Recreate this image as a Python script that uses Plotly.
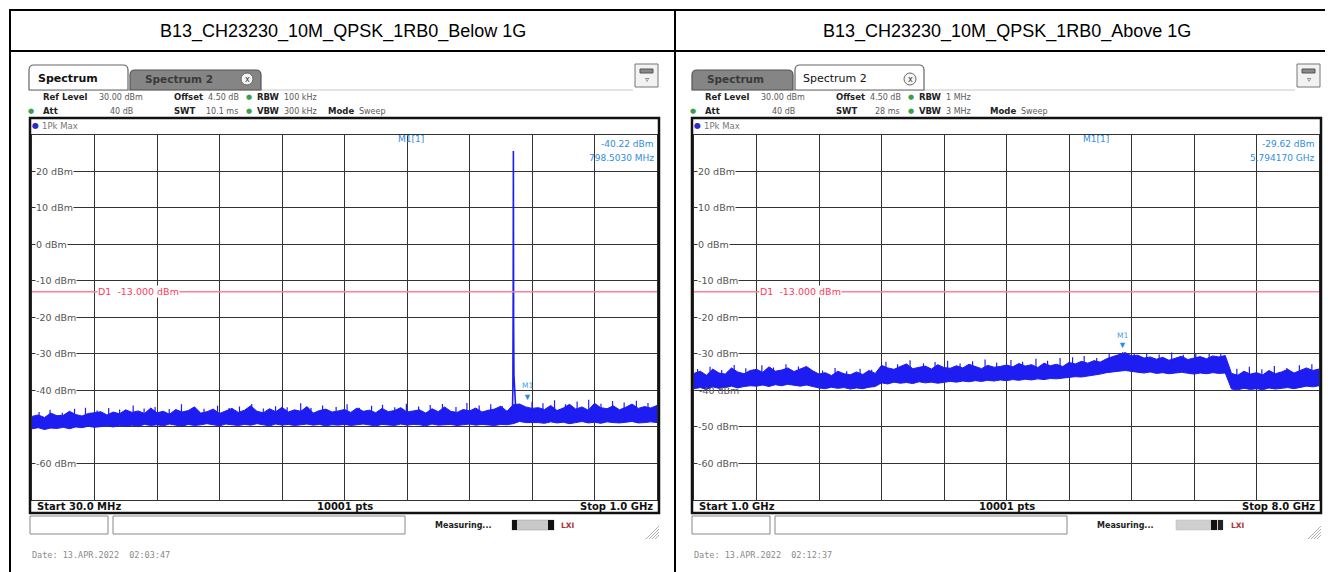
import numpy as np
import plotly.graph_objects as go

W, H = 1333, 572

# ---------------- data ----------------
titles = ["B13_CH23230_10M_QPSK_1RB0_Below 1G", "B13_CH23230_10M_QPSK_1RB0_Above 1G"]
y_range_dbm = [-70, 30]
y_tick_dbm = [20, 10, 0, -10, -20, -30, -40, -50, -60]
display_line_dbm = -13.0

below_start_mhz, below_stop_mhz = 30.0, 1000.0
below_upper_dbm = [
    -47.2, -46.8, -47.5, -46.3, -47.0, -46.9, -45.8, -46.7, -47.1, -46.4, -46.2, -45.9, -46.8, -46.0, -46.5, -45.4,
    -46.1, -45.7, -46.4, -44.9, -46.2, -45.8, -46.6, -45.3, -46.0, -45.6, -44.6, -46.3, -45.9, -45.2, -46.4, -45.7,
    -45.0, -46.1, -45.5, -44.3, -45.8, -46.2, -45.1, -45.9, -44.7, -46.0, -45.4, -45.8, -44.5, -46.3, -45.6, -45.2,
    -46.0, -45.7,
    -45.3, -46.1, -44.9, -45.8, -45.5, -46.2, -45.0, -45.9, -45.6, -44.8, -46.0, -45.7, -45.4, -46.3, -45.1, -45.9,
    -44.6, -45.8, -46.1, -45.3, -45.7, -44.9, -46.0, -45.5, -45.2, -44.4, -45.8,
    -44.0, -43.8, -44.6, -45.0,
    -44.8, -45.3, -44.2, -45.6, -44.9, -43.9, -45.2, -44.6, -45.5, -43.6, -44.8, -45.1, -44.3, -45.4, -44.7, -43.8,
    -45.0, -44.5, -44.9, -44.2]
below_lower_dbm = [
    -50.6, -50.3, -50.8, -50.4, -50.5, -50.2, -50.6, -50.1, -50.3, -49.9, -50.2, -50.0, -49.8, -50.1, -49.7, -49.9,
    -49.6, -49.9, -49.4, -49.7, -49.5, -49.8, -49.3, -49.6, -49.9, -49.4, -49.7, -49.5, -49.2, -49.6, -49.8, -49.3,
    -49.5, -49.7, -49.4, -49.6, -49.2, -49.5, -49.8, -49.3, -49.6, -49.4, -49.7, -49.5, -49.3, -49.6, -49.4, -49.8,
    -49.5, -49.6,
    -49.4, -49.7, -49.5, -49.3, -49.6, -49.8, -49.4, -49.5, -49.7, -49.3, -49.6, -49.4, -49.5, -49.8, -49.3, -49.6,
    -49.5, -49.4, -49.7, -49.5, -49.3, -49.6, -49.4, -49.5, -49.7, -49.4, -49.5,
    -49.2, -48.6, -48.9, -49.0,
    -48.9, -49.1, -48.7, -49.0, -48.8, -49.2, -48.9, -48.6, -49.0, -48.8, -49.1, -48.7, -48.9, -49.0, -48.8, -48.6,
    -49.0, -48.9, -48.7, -48.9]
below_spur_freq_mhz = [41, 58, 77, 96, 113, 131, 149, 166, 187, 204, 221, 243, 262, 279, 297, 318, 336, 352, 371,
                       389, 408, 426, 447, 463, 481, 502, 519, 538, 557, 574, 593, 611, 630, 648, 667, 688, 705,
                       724, 742, 760, 806, 823, 841, 858, 876, 894, 913, 931, 949, 968, 986]
below_spur_dbm = [-46.0, -45.4, -46.2, -45.1, -44.8, -45.6, -44.9, -45.3, -44.2, -45.0, -44.6, -45.2, -43.9, -44.8,
                  -45.1, -44.3, -44.9, -44.5, -43.8, -45.0, -44.4, -44.7, -43.6, -44.9, -44.2, -44.6, -43.9, -44.8,
                  -44.3, -44.0, -44.7, -43.7, -44.5, -44.1, -43.8, -44.6, -43.5, -44.2, -43.9, -44.4, -43.2, -43.6,
                  -42.8, -43.9, -43.1, -42.6, -43.7, -43.0, -43.4, -42.9, -43.5]
carrier_freq_mhz = [775.5, 776.3, 776.8, 777.0, 777.1, 777.2, 777.5, 778.0, 779.0, 780.5, 782.5]
carrier_dbm = [-46.5, -40.0, -12.0, 10.0, 25.6, 8.0, -22.0, -36.0, -42.0, -44.5, -45.5]
below_m1_freq_mhz, below_m1_dbm = 798.503, -40.22

above_start_ghz, above_stop_ghz = 1.0, 8.0
above_upper_dbm = [
    -35.4, -34.8, -35.9, -34.2, -35.3, -35.6, -33.9, -35.0, -35.5, -34.6,
    -34.3, -35.1, -33.6, -34.8, -34.5, -33.9, -34.9, -34.2, -33.5, -34.7,
    -35.6, -35.2, -36.0, -34.8, -35.5, -35.8, -35.0, -35.7, -34.6, -35.4,
    -33.2, -33.9, -34.3, -33.5, -32.8, -34.1, -33.7, -33.4, -34.2, -33.0,
    -33.8, -34.0, -33.3, -33.9, -32.9, -33.6, -34.1, -33.2, -33.7, -33.5,
    -33.1, -33.6, -32.7, -33.4, -33.0, -33.8, -32.6, -33.3, -32.9, -33.5,
    -32.4, -32.8, -32.1, -32.6, -31.9, -32.3, -31.4, -30.8, -30.2, -29.7,
    -30.6, -30.4, -31.2, -30.9, -31.5, -31.0, -31.8, -31.2, -30.7, -31.6,
    -31.1, -30.8, -31.4, -30.6, -30.9, -30.5, -35.4, -35.9, -34.8, -35.6,
    -35.2, -35.8, -34.6, -35.5, -35.0, -34.3, -35.3, -34.7, -33.9, -34.6, -34.2]
above_lower_dbm = [
    -39.6, -39.3, -39.8, -39.1, -39.5, -39.2, -38.9, -39.4, -39.0, -38.8,
    -38.9, -38.6, -39.0, -38.5, -38.8, -38.4, -38.7, -38.9, -38.6, -39.0,
    -39.4, -39.6, -39.2, -39.5, -39.3, -39.7, -39.4, -39.6, -39.2, -39.0,
    -38.0, -38.3, -37.8, -38.1, -37.9, -38.2, -37.7, -38.0, -37.8, -38.1,
    -37.9, -37.6, -37.8, -37.5, -37.7, -37.4, -37.6, -37.3, -37.5, -37.2,
    -37.4, -37.1, -37.3, -37.0, -37.2, -36.9, -37.1, -36.8, -36.9, -36.6,
    -36.5, -36.3, -36.4, -36.0, -35.8, -35.6, -35.2, -34.9, -34.8, -34.6,
    -34.9, -35.1, -35.3, -35.0, -35.4, -35.2, -35.5, -35.3, -35.1, -35.4,
    -35.6, -35.3, -35.5, -35.2, -35.4, -35.3, -39.7, -39.9, -39.5, -39.8,
    -39.6, -39.9, -39.4, -39.7, -39.5, -39.3, -39.6, -39.2, -38.9, -39.1, -38.8]
above_spur_freq_ghz = [1.04, 1.18, 1.31, 1.45, 1.58, 1.76, 1.89, 2.03, 2.17, 2.29, 2.44, 2.58, 2.71, 2.86, 2.99,
                       3.15, 3.28, 3.42, 3.57, 3.70, 3.84, 3.98, 4.12, 4.26, 4.39, 4.55, 4.68, 4.83, 4.96, 5.10,
                       5.24, 5.37, 5.51, 5.65, 5.80, 5.93, 6.07, 6.21, 6.35, 6.48, 6.62, 6.77, 6.90, 7.08, 7.22,
                       7.36, 7.50, 7.64, 7.78, 7.92]
above_spur_dbm = [-34.2, -33.6, -34.5, -33.1, -34.0, -33.2, -33.8, -32.9, -33.5, -34.3, -34.6, -33.9, -34.8, -34.1,
                  -34.4, -32.2, -32.9, -31.8, -32.6, -32.3, -31.9, -32.7, -32.1, -31.6, -32.4, -31.7, -32.2, -31.4,
                  -31.9, -31.2, -31.0, -30.6, -31.2, -29.9, -29.62, -30.1, -29.8, -30.2, -29.7, -30.3, -29.9, -30.0,
                  -29.9, -34.1, -33.6, -34.3, -33.4, -33.9, -33.2, -32.9]
above_m1_freq_ghz, above_m1_dbm = 5.794170, -29.62

header_values = [
    dict(ref="30.00 dBm", offset="4.50 dB", rbw="100 kHz", att="40 dB", swt="10.1 ms", vbw="300 kHz"),
    dict(ref="30.00 dBm", offset="4.50 dB", rbw="1 MHz", att="40 dB", swt="28 ms", vbw="3 MHz"),
]
dates = ["Date: 13.APR.2022  02:03:47", "Date: 13.APR.2022  02:12:37"]

# ---------------- helpers ----------------
def P(x):
    return x / W

def Q(y):
    return 1 - y / H

shapes, anns = [], []

def rect(x0, y0, x1, y1, color="#000", lw=1.0, fill=None, layer="above"):
    d = dict(type="rect", xref="paper", yref="paper", x0=P(x0), x1=P(x1), y0=Q(y1), y1=Q(y0),
             line=dict(color=color, width=lw), layer=layer)
    if fill:
        d["fillcolor"] = fill
    shapes.append(d)

def seg(x0, y0, x1, y1, color="#000", lw=1.0):
    shapes.append(dict(type="line", xref="paper", yref="paper", x0=P(x0), x1=P(x1), y0=Q(y0), y1=Q(y1),
                       line=dict(color=color, width=lw)))

def tab(x0, y0, x1, y1, fill, color, r=5):
    d = (f"M {P(x0)},{Q(y1)} L {P(x0)},{Q(y0 + r)} Q {P(x0)},{Q(y0)} {P(x0 + r)},{Q(y0)} "
         f"L {P(x1 - r)},{Q(y0)} Q {P(x1)},{Q(y0)} {P(x1)},{Q(y0 + r)} L {P(x1)},{Q(y1)} Z")
    shapes.append(dict(type="path", xref="paper", yref="paper", path=d, fillcolor=fill,
                       line=dict(color=color, width=1.2)))

def text(x, y, s, size=8, color="#222", bold=False, anchor="left", family="DejaVu Sans", bg=None):
    a = dict(x=P(x), y=Q(y), xref="paper", yref="paper", text=(f"<b>{s}</b>" if bold else s),
             showarrow=False, xanchor=anchor, yanchor="middle",
             font=dict(size=size, color=color, family=family))
    if bg:
        a["bgcolor"] = bg
        a["borderpad"] = 0
    anns.append(a)

def spur_lines(freqs, peaks, drop=3.0):
    xs, ys = [], []
    for f, p in zip(freqs, peaks):
        xs += [f, f, None]
        ys += [p - drop, p, None]
    return xs, ys

# ---------------- figure ----------------
fig = go.Figure()

blue = "#1d1df2"
below_freq = np.linspace(below_start_mhz, below_stop_mhz, len(below_upper_dbm))
fig.add_trace(go.Scatter(x=list(below_freq) + list(below_freq[::-1]),
                         y=below_upper_dbm + below_lower_dbm[::-1],
                         fill="toself", fillcolor=blue, mode="lines",
                         line=dict(color=blue, width=1), xaxis="x", yaxis="y", hoverinfo="skip"))
sx, sy = spur_lines(below_spur_freq_mhz, below_spur_dbm)
fig.add_trace(go.Scatter(x=sx, y=sy, mode="lines", line=dict(color=blue, width=1.2), xaxis="x", yaxis="y"))
fig.add_trace(go.Scatter(x=carrier_freq_mhz, y=carrier_dbm, mode="lines",
                         line=dict(color=blue, width=1.6), xaxis="x", yaxis="y"))

above_freq = np.linspace(above_start_ghz, above_stop_ghz, len(above_upper_dbm))
fig.add_trace(go.Scatter(x=list(above_freq) + list(above_freq[::-1]),
                         y=above_upper_dbm + above_lower_dbm[::-1],
                         fill="toself", fillcolor=blue, mode="lines",
                         line=dict(color=blue, width=1), xaxis="x2", yaxis="y2", hoverinfo="skip"))
sx, sy = spur_lines(above_spur_freq_ghz, above_spur_dbm)
fig.add_trace(go.Scatter(x=sx, y=sy, mode="lines", line=dict(color=blue, width=1.2), xaxis="x2", yaxis="y2"))

grid = "#333333"
ax_common = dict(showgrid=True, gridcolor=grid, gridwidth=1, showticklabels=False, ticks="",
                 zeroline=False, showline=True, mirror=True, linecolor=grid, linewidth=1, fixedrange=True)
ydom = [Q(491.5), Q(127)]
fig.update_layout(
    xaxis=dict(domain=[P(24), P(649)], range=[below_start_mhz, below_stop_mhz],
               tick0=below_start_mhz, dtick=(below_stop_mhz - below_start_mhz) / 10, anchor="y", **ax_common),
    yaxis=dict(domain=ydom, range=y_range_dbm, dtick=10, anchor="x", **ax_common),
    xaxis2=dict(domain=[P(686), P(1311)], range=[above_start_ghz, above_stop_ghz],
                tick0=above_start_ghz, dtick=(above_stop_ghz - above_start_ghz) / 10, anchor="y2", **ax_common),
    yaxis2=dict(domain=ydom, range=y_range_dbm, dtick=10, anchor="x2", **ax_common),
)

# ---------------- table ----------------
rect(2, 2, 1331, 570, "#000", 2)
seg(667, 2, 667, 570, "#000", 2)
seg(2, 43, 1331, 43, "#000", 2)
text(335, 23, titles[0], size=18, color="#000", anchor="center", family="Liberation Sans")
text(999, 23, titles[1], size=18, color="#000", anchor="center", family="Liberation Sans")

# ---------------- analyzer chrome per panel ----------------
green = "#3aa04a"
mk = "#2f8de0"
for i in range(2):
    dx = 662 * i
    xa, ya = ("x", "y") if i == 0 else ("x2", "y2")
    hv = header_values[i]
    # tabs
    seg(22 + dx, 82, 625 + dx, 82, "#c8c8c8", 1)
    if i == 0:
        tab(122, 62, 253, 82, "#858585", "#555")
        tab(21, 57, 120, 82, "#ffffff", "#666")
        text(28, 70, "Spectrum", size=11, color="#111", bold=True)
        text(135, 71, "Spectrum 2", size=10.5, color="#3a3a3a", bold=True)
        cx = 239
    else:
        tab(684, 62, 785, 82, "#858585", "#555")
        tab(787, 57, 916, 82, "#ffffff", "#666")
        text(697, 71, "Spectrum", size=10.5, color="#3a3a3a", bold=True)
        text(793, 70, "Spectrum 2", size=11, color="#111")
        cx = 902
    shapes.append(dict(type="circle", xref="paper", yref="paper", x0=P(cx - 6), x1=P(cx + 6),
                       y0=Q(77), y1=Q(65), fillcolor="#f4f4f4", line=dict(color="#666", width=1)))
    text(cx, 71, "x", size=8, color="#333", anchor="center")
    # icon top right
    rect(627 + dx, 56, 650 + dx, 79, "#777", 1, "#f2f2f2")
    rect(632 + dx, 61, 645 + dx, 65, "#555", 1, "#888")
    text(638.5 + dx, 71, "▿", size=8, color="#555", anchor="center")
    # header info
    y1, y2 = 89, 103
    lab = dict(size=8.5, color="#222", bold=True)
    val = dict(size=8, color="#5a5a5a")
    text(33 + dx, y1, "Ref Level", **lab)
    text(89 + dx, y1, hv["ref"], **val)
    text(164 + dx, y1, "Offset", **lab)
    text(198 + dx, y1, hv["offset"], **val)
    text(241 + dx, y1, "●", 7, green, anchor="center")
    text(247 + dx, y1, "RBW", **lab)
    text(274 + dx, y1, hv["rbw"], **val)
    text(23 + dx, y2, "●", 7, green, anchor="center")
    text(33 + dx, y2, "Att", **lab)
    text(127 + dx, y2, hv["att"], anchor="right", **val)
    text(164 + dx, y2, "SWT", **lab)
    text(232 + dx, y2, hv["swt"], anchor="right", **val)
    text(241 + dx, y2, "●", 7, green, anchor="center")
    text(247 + dx, y2, "VBW", **lab)
    text(274 + dx, y2, hv["vbw"], **val)
    text(318 + dx, y2, "Mode", **lab)
    text(349 + dx, y2, "Sweep", **val)
    # plot frame
    rect(22 + dx, 110, 651 + dx, 505, "#111", 2.5)
    text(27 + dx, 118, "●", 8, "#2a2ad0", anchor="center")
    text(32 + dx, 118, "1Pk Max", 8.5, "#777")
    # white marker-info area above grid
    x0w = 345 if i == 0 else 1006
    shapes.append(dict(type="rect", xref="paper", yref="paper", x0=P(x0w), x1=P(648 + dx),
                       y0=Q(155), y1=Q(128), fillcolor="#ffffff", line=dict(width=0), layer="between"))
    # y labels
    for v in y_tick_dbm:
        if i == 0 and v == -50:
            continue
        a = dict(x=P(27 + dx), y=v, xref="paper", yref=ya, text=f"{v} dBm", showarrow=False,
                 xanchor="left", yanchor="middle", font=dict(size=9.5, color="#555", family="DejaVu Sans"))
        if not (i == 1 and v == -40):
            a["bgcolor"] = "#ffffff"
            a["borderpad"] = 0
        anns.append(a)
    # display line D1
    shapes.append(dict(type="line", xref=f"{xa} domain", yref=ya, x0=0, x1=1,
                       y0=display_line_dbm, y1=display_line_dbm, line=dict(color="#ff7f9a", width=1.5)))
    anns.append(dict(x=P(89 + dx), y=display_line_dbm, xref="paper", yref=ya,
                     text=f"D1  {display_line_dbm:.3f} dBm", showarrow=False, xanchor="left", yanchor="middle",
                     font=dict(size=9.5, color="#ff3a5c", family="DejaVu Sans"), bgcolor="#ffffff", borderpad=0))
    # bottom bar
    if i == 0:
        start_t, stop_t = f"Start {below_start_mhz:.1f} MHz", f"Stop {below_stop_mhz / 1000:.1f} GHz"
    else:
        start_t, stop_t = f"Start {above_start_ghz:.1f} GHz", f"Stop {above_stop_ghz:.1f} GHz"
    text(27 + dx, 498, start_t, 10, "#111", True)
    text(337 + dx, 498, "10001 pts", 10, "#111", True, anchor="center")
    text(647 + dx, 498, stop_t, 10, "#111", True, anchor="right")
    # status bar
    rect(22 + dx, 508, 100 + dx, 526, "#888", 1, "#ffffff")
    rect(105 + dx, 508, 397 + dx, 526, "#888", 1, "#ffffff")
    text(425 + dx, 517, "Measuring...", 8, "#222", True)
    if i == 0:
        rect(504, 512, 546, 522, "#999", 0.5, "#c8c8c8")
        rect(504, 512, 509, 522, "#111", 0, "#111")
        rect(540, 512, 546, 522, "#111", 0, "#111")
        text(551, 517, "LXI", 7.5, "#b03030", True)
    else:
        rect(1168, 512, 1215, 522, "#bbb", 0.5, "#cfcfcf")
        rect(1203, 512, 1209, 522, "#111", 0, "#111")
        rect(1210, 512, 1215, 522, "#222", 0, "#222")
        text(1221, 517, "LXI", 7.5, "#b03030", True)
    for k in range(4):
        seg(638 + 3 * k + dx, 531, 651 + dx, 518 + 3 * k, "#999", 0.8)
    text(22 + dx, 547, dates[i], 8.5, "#8a8a8a", family="DejaVu Sans Mono")

# ---------------- markers ----------------
for (xa, ya, fx, fy, fmt, tri_shift, lab_shift, mx, rx) in [
        ("x", "y", below_m1_freq_mhz, below_m1_dbm, f"{below_m1_freq_mhz:.4f} MHz", -6, 5, 388, 648),
        ("x2", "y2", above_m1_freq_ghz, above_m1_dbm, f"{above_m1_freq_ghz:.6f} GHz", 8, 17, 1073, 1309)]:
    anns.append(dict(x=fx, y=fy, xref=xa, yref=ya, text="▼", showarrow=False, xanchor="center",
                     yanchor="middle", yshift=tri_shift, font=dict(size=9, color=mk)))
    anns.append(dict(x=fx, y=fy, xref=xa, yref=ya, text="M1", showarrow=False, xanchor="center",
                     yanchor="middle", yshift=lab_shift, font=dict(size=7.5, color="#4aa0e8", family="DejaVu Sans")))
    text(mx, 131, "M1[1]", 9, mk)
    text(rx, 136, f"{fy:.2f} dBm", 9, mk, anchor="right")
    text(rx, 150, fmt, 9, mk, anchor="right")

fig.update_layout(width=W, height=H, autosize=False, margin=dict(l=0, r=0, t=0, b=0),
                  paper_bgcolor="#ffffff", plot_bgcolor="#ffffff", showlegend=False,
                  shapes=shapes, annotations=anns)
fig.write_html("out.html")
